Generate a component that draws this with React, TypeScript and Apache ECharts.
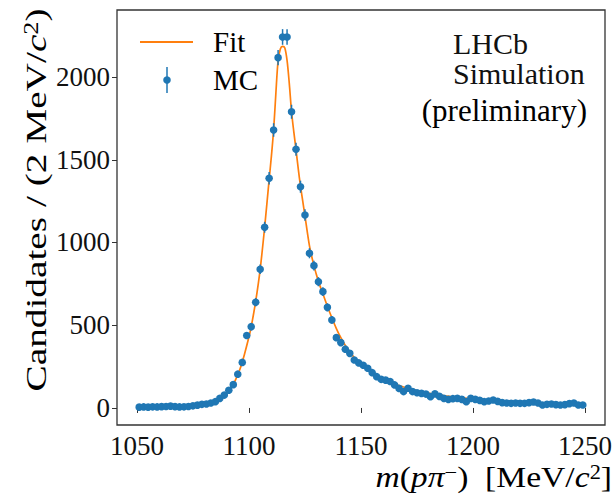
import React, { useEffect, useRef } from "react";
import * as echarts from "echarts";

// Bin centres (2 MeV bins) in MeV/c^2
const massBins = [
  1051, 1053, 1055, 1057, 1059, 1061, 1063, 1065, 1067, 1069,
  1071, 1073, 1075, 1077, 1079, 1081, 1083, 1085, 1087, 1089,
  1091, 1093, 1095, 1097, 1099, 1101, 1103, 1105, 1107, 1109,
  1111, 1113, 1115, 1117, 1119, 1121, 1123, 1125, 1127, 1129,
  1131, 1133, 1135, 1137, 1139, 1141, 1143, 1145, 1147, 1149,
  1151, 1153, 1155, 1157, 1159, 1161, 1163, 1165, 1167, 1169,
  1171, 1173, 1175, 1177, 1179, 1181, 1183, 1185, 1187, 1189,
  1191, 1193, 1195, 1197, 1199, 1201, 1203, 1205, 1207, 1209,
  1211, 1213, 1215, 1217, 1219, 1221, 1223, 1225, 1227, 1229,
  1231, 1233, 1235, 1237, 1239, 1241, 1243, 1245, 1247, 1249,
];

// MC candidates per bin
const mcCounts = [
  5, 6, 5, 7, 6, 8, 9, 11, 8, 6,
  7, 9, 13, 17, 22, 24, 30, 38, 58, 78,
  107, 141, 204, 275, 438, 491, 639, 838, 1092, 1388,
  1680, 2117, 2242, 2242, 1790, 1563, 1337, 1166, 935, 860,
  763, 703, 608, 532, 425, 395, 355, 330, 290, 272,
  258, 240, 213, 189, 173, 168, 160, 139, 118, 99,
  119, 99, 92, 88, 84, 68, 85, 70, 58, 52,
  56, 58, 52, 38, 58, 52, 46, 38, 42, 48,
  40, 32, 30, 28, 30, 28, 28, 32, 36, 30,
  18, 22, 24, 20, 18, 20, 26, 30, 18, 18,
];

// Fit curve
const fitMass = [
  1051, 1056, 1061, 1066, 1071, 1076, 1080, 1082, 1084, 1086,
  1088, 1090, 1092, 1094, 1096, 1098, 1100, 1101, 1103, 1105,
  1107, 1109, 1110, 1111, 1112, 1113, 1114, 1115, 1116, 1117,
  1118, 1119, 1120, 1121, 1122, 1123, 1124, 1125, 1127, 1129,
  1131, 1133, 1135, 1137, 1139, 1141, 1143, 1145, 1147, 1150,
  1154, 1158, 1162, 1166, 1170, 1175, 1180, 1185, 1190, 1195,
  1200, 1210, 1220, 1230, 1240, 1249,
];
const fitValues = [
  4, 5, 6, 8, 10, 14, 18, 24, 33, 46,
  64, 88, 120, 170, 235, 325, 430, 490, 645, 838,
  1092, 1380, 1520, 1680, 1900, 2100, 2170, 2185, 2175, 2100,
  1960, 1790, 1670, 1560, 1445, 1340, 1250, 1160, 980, 860,
  765, 690, 615, 545, 480, 425, 378, 338, 305, 262,
  220, 188, 162, 140, 122, 104, 90, 78, 69, 61,
  55, 45, 38, 32, 28, 25,
];

const xTicks = [1050, 1100, 1150, 1200, 1250];
const yTicks = [0, 500, 1000, 1500, 2000];

const BLUE = "#1f77b4";
const ORANGE = "#ff7f0e";
const SERIF = "'Liberation Serif', 'Times New Roman', serif";

export default function App() {
  const ref = useRef<HTMLDivElement>(null);

  useEffect(() => {
    if (!ref.current) return;
    const chart = echarts.init(ref.current, undefined, { renderer: "svg" });

    const mcData = massBins.map((m, i) => [m, mcCounts[i]]);
    const fitData = fitMass.map((m, i) => [m, fitValues[i]]);

    const titleRich = (size: number) => ({
      n: { fontFamily: SERIF, fontSize: size, color: "#000" },
      i: { fontFamily: SERIF, fontSize: size, fontStyle: "italic", color: "#000" },
      s: { fontFamily: SERIF, fontSize: Math.round(size * 0.65), color: "#000", verticalAlign: "top" },
    });

    chart.setOption({
      animation: false,
      backgroundColor: "#fff",
      grid: {
        left: 117,
        right: 10,
        top: 10,
        bottom: 71,
        show: true,
        borderColor: "#333",
        borderWidth: 1.3,
        backgroundColor: "transparent",
        outerBoundsMode: "none",
      },
      xAxis: {
        type: "value",
        min: 1041.1,
        max: 1258.9,
        splitLine: { show: false },
        axisLine: { show: false },
        axisTick: {
          show: true,
          length: 5,
          lineStyle: { color: "#333", width: 1 },
          customValues: xTicks,
        },
        axisLabel: {
          customValues: xTicks,
          formatter: (v: number) => String(v),
          fontFamily: SERIF,
          fontSize: 27,
          color: "#111",
          margin: 7,
        },
      },
      yAxis: {
        type: "value",
        min: -103,
        max: 2405,
        splitLine: { show: false },
        axisLine: { show: false },
        axisTick: {
          show: true,
          length: 5,
          lineStyle: { color: "#333", width: 1 },
          customValues: yTicks,
        },
        axisLabel: {
          customValues: yTicks,
          formatter: (v: number) => String(v),
          fontFamily: SERIF,
          fontSize: 27,
          color: "#111",
          margin: 7,
        },
      },
      series: [
        {
          name: "Fit",
          type: "line",
          data: fitData,
          showSymbol: false,
          smooth: 0.3,
          lineStyle: { color: ORANGE, width: 1.7 },
          z: 2,
        },
        {
          name: "MC",
          type: "custom",
          data: mcData,
          encode: { x: 0, y: 1 },
          z: 3,
          renderItem: (params: any, api: any) => {
            const m = api.value(0);
            const v = api.value(1);
            const e = Math.sqrt(v);
            const c = api.coord([m, v]);
            const lo = api.coord([m, v - e]);
            const hi = api.coord([m, v + e]);
            return {
              type: "group",
              children: [
                {
                  type: "line",
                  shape: { x1: c[0], y1: lo[1], x2: c[0], y2: hi[1] },
                  style: { stroke: BLUE, lineWidth: 1.5 },
                },
                {
                  type: "circle",
                  shape: { cx: c[0], cy: c[1], r: 3.8 },
                  style: { fill: BLUE },
                },
              ],
            };
          },
        },
      ],
      graphic: [
        // Legend
        {
          type: "line",
          shape: { x1: 140, y1: 42, x2: 193, y2: 42 },
          style: { stroke: ORANGE, lineWidth: 2 },
        },
        {
          type: "text",
          x: 213,
          y: 42,
          style: { text: "Fit", font: `29px ${SERIF}`, fill: "#000", verticalAlign: "middle" },
        },
        {
          type: "line",
          shape: { x1: 167, y1: 67, x2: 167, y2: 93 },
          style: { stroke: BLUE, lineWidth: 1.5 },
        },
        {
          type: "circle",
          shape: { cx: 167, cy: 80, r: 3.8 },
          style: { fill: BLUE },
        },
        {
          type: "text",
          x: 213,
          y: 80,
          style: { text: "MC", font: `29px ${SERIF}`, fill: "#000", verticalAlign: "middle" },
        },
        // Experiment label
        {
          type: "text",
          x: 453,
          y: 28,
          style: {
            text: "LHCb\nSimulation",
            font: `30px ${SERIF}`,
            lineHeight: 30,
            fill: "#111",
            verticalAlign: "top",
          },
        },
        {
          type: "text",
          x: 587,
          y: 110,
          style: { text: "(preliminary)", font: `31px ${SERIF}`, fill: "#000", align: "right", verticalAlign: "middle" },
        },
        // Axis titles
        {
          type: "text",
          x: 36,
          y: 200,
          rotation: Math.PI / 2,
          scaleX: 1.31,
          style: {
            text: "{n|Candidates / (2 MeV/}{i|c}{s|2}{n|)}",
            rich: titleRich(30),
            align: "center",
            verticalAlign: "middle",
          },
        },
        {
          type: "text",
          x: 612,
          y: 477,
          scaleX: 1.12,
          style: {
            text: "{i|m}{n|(}{i|pπ}{s|−}{n|)  [MeV/}{i|c}{s|2}{n|]}",
            rich: titleRich(30),
            align: "right",
            verticalAlign: "middle",
          },
        },
      ],
    });

    return () => chart.dispose();
  }, []);

  return (
    <div
      ref={ref}
      style={{ position: "absolute", left: 0, top: 0, width: 615, height: 496 }}
    />
  );
}
